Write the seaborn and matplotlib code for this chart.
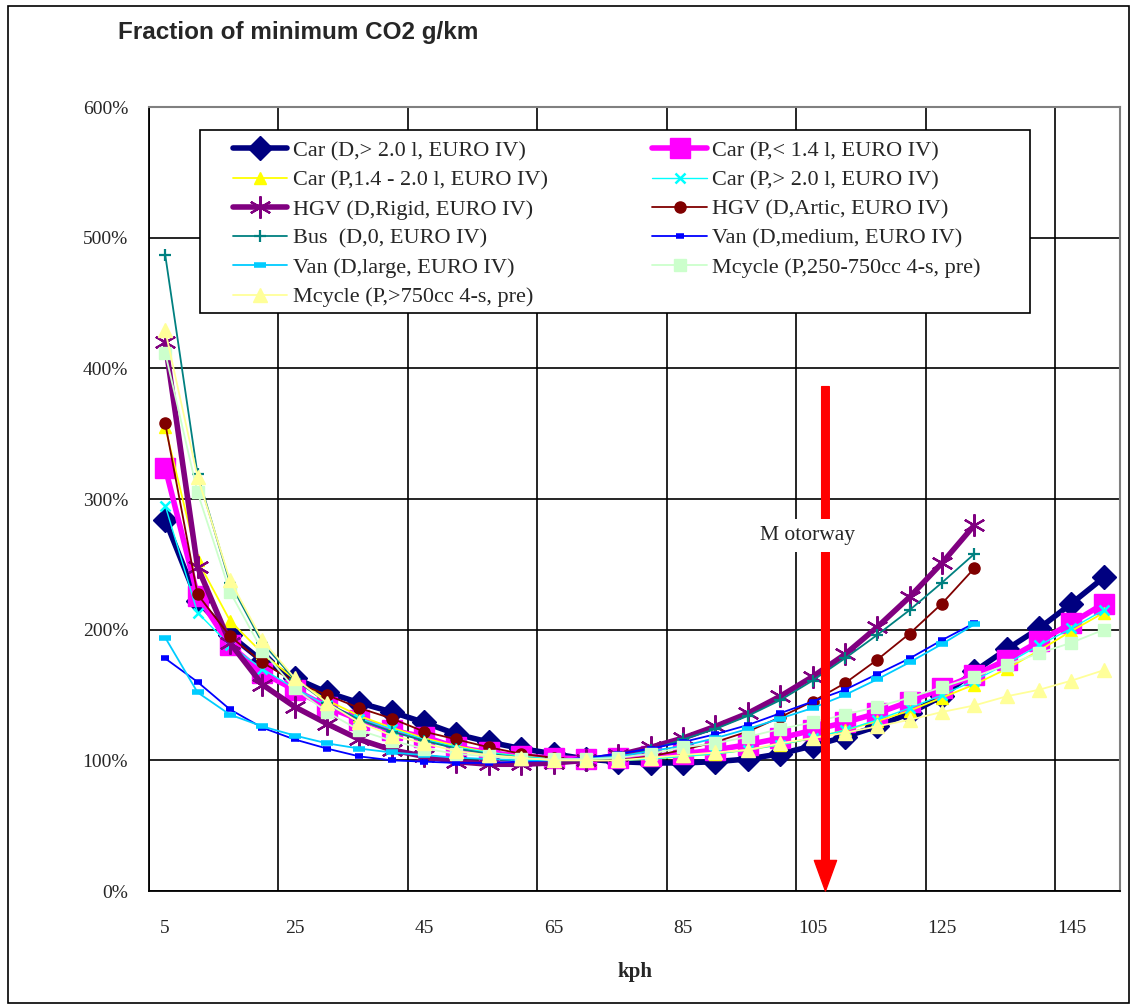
"""Fraction of minimum CO2 g/km by speed, per vehicle type (EURO IV / pre)."""

import matplotlib
matplotlib.use("Agg")
import matplotlib.pyplot as plt
import matplotlib.ticker as mticker
from matplotlib.patches import Rectangle
import numpy as np
import pandas as pd
import seaborn as sns

kph = list(range(5, 155, 5))

car_d_gt20 = [2.84, 2.22, 1.96, 1.76, 1.63, 1.52, 1.44, 1.37, 1.29, 1.20, 1.14, 1.09, 1.05, 1.01, 0.99,
              0.98, 0.98, 0.99, 1.01, 1.05, 1.11, 1.18, 1.26, 1.36, 1.49, 1.68, 1.85, 2.01, 2.20, 2.40]
car_p_lt14 = [3.24, 2.26, 1.88, 1.67, 1.54, 1.41, 1.31, 1.23, 1.18, 1.10, 1.06, 1.03, 1.02, 1.01, 1.02,
              1.03, 1.05, 1.08, 1.12, 1.17, 1.23, 1.29, 1.36, 1.45, 1.55, 1.65, 1.77, 1.91, 2.05, 2.20]
car_p_14_20 = [3.55, 2.53, 2.07, 1.82, 1.62, 1.46, 1.34, 1.25, 1.17, 1.11, 1.06, 1.03, 1.01, 1.00, 1.00,
               1.01, 1.03, 1.05, 1.08, 1.12, 1.17, 1.23, 1.30, 1.38, 1.48, 1.58, 1.70, 1.84, 1.99, 2.13]
car_p_gt20 = [2.95, 2.13, 1.88, 1.70, 1.55, 1.42, 1.32, 1.24, 1.16, 1.10, 1.06, 1.03, 1.01, 1.00, 1.00,
              1.01, 1.03, 1.05, 1.08, 1.12, 1.17, 1.23, 1.31, 1.40, 1.50, 1.61, 1.74, 1.88, 2.01, 2.15]
hgv_rigid = [4.20, 2.48, 1.90, 1.58, 1.41, 1.28, 1.16, 1.08, 1.03, 0.99, 0.97, 0.97, 0.98, 1.00, 1.04,
             1.10, 1.17, 1.26, 1.36, 1.49, 1.64, 1.81, 2.02, 2.25, 2.51, 2.80]
hgv_artic = [3.58, 2.27, 1.95, 1.75, 1.60, 1.50, 1.40, 1.32, 1.22, 1.16, 1.10, 1.05, 1.02, 1.00, 1.00,
             1.03, 1.08, 1.14, 1.22, 1.33, 1.45, 1.59, 1.77, 1.97, 2.20, 2.47]
bus = [4.87, 3.19, 2.36, 1.90, 1.62, 1.44, 1.31, 1.22, 1.15, 1.09, 1.05, 1.02, 1.00, 1.00, 1.02,
       1.08, 1.16, 1.24, 1.34, 1.46, 1.61, 1.78, 1.96, 2.15, 2.36, 2.58]
van_medium = [1.78, 1.60, 1.39, 1.25, 1.16, 1.09, 1.03, 1.00, 0.99, 0.98, 0.98, 0.99, 1.00, 1.02, 1.05,
              1.09, 1.14, 1.20, 1.27, 1.36, 1.45, 1.54, 1.66, 1.78, 1.92, 2.05]
van_large = [1.94, 1.52, 1.35, 1.26, 1.19, 1.13, 1.09, 1.06, 1.04, 1.02, 1.01, 1.00, 1.00, 1.01, 1.03,
             1.07, 1.11, 1.17, 1.24, 1.32, 1.40, 1.50, 1.62, 1.75, 1.89, 2.04]
mcycle_250 = [4.12, 3.05, 2.29, 1.84, 1.55, 1.37, 1.23, 1.15, 1.09, 1.05, 1.03, 1.01, 1.01, 1.01, 1.02,
              1.05, 1.10, 1.13, 1.18, 1.24, 1.29, 1.35, 1.41, 1.48, 1.56, 1.64, 1.73, 1.82, 1.90, 2.00]
mcycle_750 = [4.29, 3.17, 2.38, 1.92, 1.63, 1.44, 1.29, 1.19, 1.13, 1.07, 1.04, 1.02, 1.00, 1.00, 1.00,
              1.02, 1.04, 1.06, 1.08, 1.13, 1.17, 1.21, 1.26, 1.31, 1.37, 1.42, 1.49, 1.54, 1.61, 1.69]

labels = [
    "Car (D,> 2.0 l, EURO IV)",
    "Car (P,< 1.4 l, EURO IV)",
    "Car (P,1.4 - 2.0 l, EURO IV)",
    "Car (P,> 2.0 l, EURO IV)",
    "HGV (D,Rigid, EURO IV)",
    "HGV (D,Artic, EURO IV)",
    "Bus  (D,0, EURO IV)",
    "Van (D,medium, EURO IV)",
    "Van (D,large, EURO IV)",
    "Mcycle (P,250-750cc 4-s, pre)",
    "Mcycle (P,>750cc 4-s, pre)",
]
series = [car_d_gt20, car_p_lt14, car_p_14_20, car_p_gt20, hgv_rigid, hgv_artic,
          bus, van_medium, van_large, mcycle_250, mcycle_750]

# colour, marker, markersize, linewidth, marker edge width
styles = [
    ("#000080", "D", 12, 4.0, 1.0),
    ("#FF00FF", "s", 14, 4.0, 1.0),
    ("#FFFF00", "^", 9, 1.3, 1.0),
    ("#00FFFF", "x", 7, 1.0, 1.8),
    ("#800080", (6, 2, 0), 16, 4.0, 1.6),
    ("#800000", "o", 8, 1.3, 1.0),
    ("#008080", "+", 8, 1.3, 1.6),
    ("#0000FF", "_", 6, 1.3, 4.0),
    ("#00CCFF", "_", 8, 1.3, 4.0),
    ("#CCFFCC", "s", 8, 1.3, 1.0),
    ("#FFFF99", "^", 10, 1.3, 1.0),
]

sns.set_style("white")
plt.rcParams["font.family"] = ["Liberation Serif", "DejaVu Serif"]

fig = plt.figure(figsize=(11.33, 10.07), dpi=100)
ax = fig.add_axes([149 / 1133, 1 - 891 / 1007, 971 / 1133, 784 / 1007])

handles = []
for lab, vals, (col, mk, ms, lw, mew) in zip(labels, series, styles):
    df = pd.DataFrame({"kph": kph[: len(vals)], "frac": vals})
    sns.lineplot(data=df, x="kph", y="frac", ax=ax, color=col, linewidth=lw,
                 marker=mk, markersize=ms, markeredgecolor=col, markerfacecolor=col,
                 markeredgewidth=mew, label=lab, legend=False)
    handles.append(ax.lines[-1])

ax.set_xlim(2.5, 152.5)
ax.set_ylim(0, 6)

ax.xaxis.set_major_locator(mticker.FixedLocator(np.arange(2.5, 150, 20)))
ax.xaxis.set_major_formatter(mticker.NullFormatter())
ax.xaxis.set_minor_locator(mticker.FixedLocator(kph[::4]))
ax.xaxis.set_minor_formatter(mticker.FixedFormatter([str(k) for k in kph[::4]]))
ax.yaxis.set_major_locator(mticker.MultipleLocator(1))
ax.yaxis.set_major_formatter(mticker.PercentFormatter(xmax=1, decimals=0))

ax.tick_params(axis="x", which="major", direction="out", length=6, width=1.2, color="black")
ax.tick_params(axis="x", which="minor", length=0, pad=21, labelsize=14)
ax.tick_params(axis="y", direction="out", length=6, width=1.2, color="black", pad=9, labelsize=14)
ax.grid(True, which="major", color="black", linewidth=1.2)
ax.set_axisbelow(True)

for side in ("left", "bottom"):
    ax.spines[side].set_color("black")
    ax.spines[side].set_linewidth(1.3)
for side in ("top", "right"):
    ax.spines[side].set_color("#808080")
    ax.spines[side].set_linewidth(1.5)

ax.set_xlabel("kph", fontsize=15, fontweight="bold", labelpad=18)
ax.set_ylabel("")

# Motorway arrow
ax.annotate("", xy=(107, 0.0), xytext=(107, 3.86),
            arrowprops=dict(facecolor="#FF0000", edgecolor="#FF0000", width=5.5,
                            headwidth=16, headlength=22, shrink=0))
ax.text(104.3, 2.72, "M otorway", fontsize=15.5, ha="center", va="center", zorder=5,
        bbox=dict(facecolor="white", edgecolor="none", pad=5))

# legend box drawn separately so the inner padding can match the original
ax.add_patch(Rectangle((0.0525, 0.7372), 0.8548, 0.2335, transform=ax.transAxes,
                       facecolor="white", edgecolor="black", linewidth=1.2, zorder=5.5))
order = [0, 2, 4, 6, 8, 10, 1, 3, 5, 7, 9]
leg = ax.legend([handles[i] for i in order], [labels[i] for i in order], ncol=2,
                loc="upper left", bbox_to_anchor=(0.0865, 0.957), fontsize=16,
                frameon=False, handlelength=2.45, labelspacing=0.39, columnspacing=4.7,
                handletextpad=0.25, borderpad=0, borderaxespad=0)
leg.set_zorder(6)

fig.text(118 / 1133, 1 - 33 / 1007, "Fraction of minimum CO2 g/km", fontsize=17.5,
         fontweight="bold", family=["Liberation Sans", "DejaVu Sans"], va="center")

fig.patches.append(Rectangle((8 / 1133, 4 / 1007), 1 - 12 / 1133, 1 - 10 / 1007,
                             transform=fig.transFigure, fill=False, edgecolor="black",
                             linewidth=1.2))

fig.savefig("out.png", dpi=100)
